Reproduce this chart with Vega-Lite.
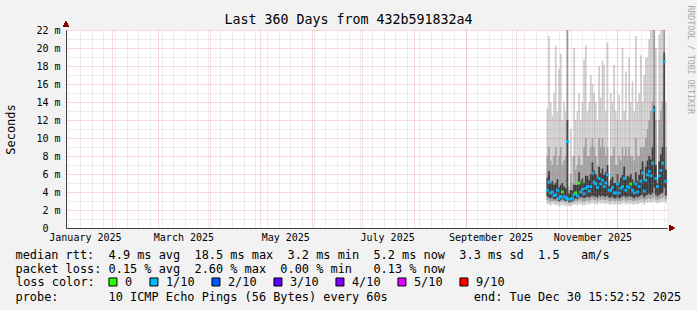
{
  "$schema": "https://vega.github.io/schema/vega-lite/v6.json",
  "width": 601,
  "height": 198,
  "autosize": {"type": "none"},
  "padding": {"left": 66, "top": 30, "right": 30, "bottom": 82},
  "background": "#f2f2f2",
  "config": {"view": {"fill": "#ffffff", "stroke": null}},
  "data": {"values": [
    {"d":"2025-10-20","mn":2.7,"lo":3.1,"lc":3.5,"md":4.2,"hc":5.6,"hi":8.0,"mx":13.3,"loss":"1/10"},
    {"d":"2025-10-21","mn":2.6,"lo":3.0,"lc":3.4,"md":5.1,"hc":6.3,"hi":9.0,"mx":21.3,"loss":"1/10"},
    {"d":"2025-10-22","mn":2.5,"lo":2.9,"lc":3.3,"md":3.9,"hc":5.0,"hi":7.5,"mx":14.0,"loss":"1/10"},
    {"d":"2025-10-23","mn":2.7,"lo":3.0,"lc":3.4,"md":4.0,"hc":5.2,"hi":7.0,"mx":12.5,"loss":"1/10"},
    {"d":"2025-10-24","mn":2.6,"lo":3.0,"lc":3.2,"md":3.6,"hc":4.8,"hi":8.0,"mx":15.0,"loss":"1/10"},
    {"d":"2025-10-25","mn":2.5,"lo":2.9,"lc":3.2,"md":3.7,"hc":5.0,"hi":9.0,"mx":20.3,"loss":"1/10"},
    {"d":"2025-10-26","mn":2.6,"lo":3.0,"lc":3.4,"md":4.2,"hc":5.4,"hi":7.0,"mx":13.0,"loss":"1/10"},
    {"d":"2025-10-27","mn":2.4,"lo":2.8,"lc":3.0,"md":3.3,"hc":4.5,"hi":8.0,"mx":17.7,"loss":"1/10"},
    {"d":"2025-10-28","mn":2.5,"lo":2.9,"lc":3.1,"md":3.5,"hc":4.8,"hi":9.0,"mx":19.4,"loss":"1/10"},
    {"d":"2025-10-29","mn":2.6,"lo":3.0,"lc":3.3,"md":4.0,"hc":5.0,"hi":7.0,"mx":12.0,"loss":"0"},
    {"d":"2025-10-30","mn":2.5,"lo":2.9,"lc":3.1,"md":3.5,"hc":4.6,"hi":7.5,"mx":14.0,"loss":"1/10"},
    {"d":"2025-10-31","mn":2.4,"lo":2.8,"lc":3.0,"md":3.3,"hc":4.4,"hi":8.0,"mx":13.0,"loss":"1/10"},
    {"d":"2025-11-01","mn":2.6,"lo":3.0,"lc":3.5,"md":9.6,"hc":12.0,"hi":22.0,"mx":22.0,"loss":"1/10"},
    {"d":"2025-11-02","mn":2.4,"lo":2.7,"lc":2.9,"md":3.2,"hc":3.8,"hi":4.2,"mx":4.6,"loss":"1/10"},
    {"d":"2025-11-03","mn":2.4,"lo":2.8,"lc":2.9,"md":3.2,"hc":4.2,"hi":6.0,"mx":11.0,"loss":"1/10"},
    {"d":"2025-11-04","mn":2.5,"lo":2.8,"lc":3.0,"md":3.3,"hc":4.2,"hi":5.0,"mx":8.0,"loss":"1/10"},
    {"d":"2025-11-05","mn":2.6,"lo":2.9,"lc":3.2,"md":3.7,"hc":4.8,"hi":8.0,"mx":20.0,"loss":"1/10"},
    {"d":"2025-11-06","mn":2.6,"lo":3.0,"lc":3.3,"md":3.9,"hc":4.8,"hi":6.5,"mx":12.0,"loss":"0"},
    {"d":"2025-11-07","mn":2.5,"lo":2.9,"lc":3.2,"md":3.6,"hc":4.8,"hi":7.0,"mx":13.0,"loss":"1/10"},
    {"d":"2025-11-08","mn":2.7,"lo":3.1,"lc":3.5,"md":5.0,"hc":6.2,"hi":8.0,"mx":15.0,"loss":"0"},
    {"d":"2025-11-09","mn":2.6,"lo":3.0,"lc":3.4,"md":4.0,"hc":5.2,"hi":7.0,"mx":12.0,"loss":"1/10"},
    {"d":"2025-11-10","mn":2.6,"lo":3.0,"lc":3.4,"md":4.3,"hc":5.5,"hi":7.0,"mx":14.0,"loss":"1/10"},
    {"d":"2025-11-11","mn":2.5,"lo":2.9,"lc":3.3,"md":3.8,"hc":5.0,"hi":9.0,"mx":18.7,"loss":"1/10"},
    {"d":"2025-11-12","mn":2.6,"lo":3.0,"lc":3.4,"md":4.4,"hc":5.8,"hi":10.0,"mx":20.3,"loss":"1/10"},
    {"d":"2025-11-13","mn":2.7,"lo":3.1,"lc":3.5,"md":4.6,"hc":5.8,"hi":8.0,"mx":13.0,"loss":"1/10"},
    {"d":"2025-11-14","mn":2.6,"lo":3.0,"lc":3.4,"md":4.1,"hc":5.3,"hi":8.0,"mx":14.0,"loss":"1/10"},
    {"d":"2025-11-15","mn":2.7,"lo":3.1,"lc":3.5,"md":4.6,"hc":6.0,"hi":9.0,"mx":17.0,"loss":"1/10"},
    {"d":"2025-11-16","mn":2.8,"lo":3.2,"lc":3.6,"md":6.1,"hc":7.3,"hi":10.0,"mx":16.0,"loss":"1/10"},
    {"d":"2025-11-17","mn":2.7,"lo":3.1,"lc":3.5,"md":5.1,"hc":6.4,"hi":9.0,"mx":15.0,"loss":"1/10"},
    {"d":"2025-11-18","mn":2.7,"lo":3.1,"lc":3.5,"md":4.9,"hc":6.0,"hi":8.0,"mx":14.0,"loss":"1/10"},
    {"d":"2025-11-19","mn":2.6,"lo":3.0,"lc":3.4,"md":4.5,"hc":5.6,"hi":7.0,"mx":12.0,"loss":"1/10"},
    {"d":"2025-11-20","mn":2.8,"lo":3.2,"lc":3.6,"md":5.5,"hc":6.8,"hi":10.0,"mx":18.0,"loss":"1/10"},
    {"d":"2025-11-21","mn":2.7,"lo":3.1,"lc":3.5,"md":4.9,"hc":6.1,"hi":9.0,"mx":14.5,"loss":"1/10"},
    {"d":"2025-11-22","mn":2.8,"lo":3.2,"lc":3.6,"md":5.3,"hc":6.6,"hi":10.0,"mx":18.6,"loss":"1/10"},
    {"d":"2025-11-23","mn":2.7,"lo":3.1,"lc":3.5,"md":4.6,"hc":5.9,"hi":9.0,"mx":18.1,"loss":"1/10"},
    {"d":"2025-11-24","mn":2.7,"lo":3.1,"lc":3.5,"md":5.0,"hc":6.2,"hi":8.0,"mx":13.0,"loss":"1/10"},
    {"d":"2025-11-25","mn":2.8,"lo":3.2,"lc":3.6,"md":5.9,"hc":7.0,"hi":9.0,"mx":20.6,"loss":"1/10"},
    {"d":"2025-11-26","mn":2.6,"lo":3.0,"lc":3.4,"md":4.2,"hc":4.6,"hi":4.8,"mx":5.2,"loss":"1/10"},
    {"d":"2025-11-27","mn":2.6,"lo":3.0,"lc":3.4,"md":4.2,"hc":5.4,"hi":8.0,"mx":15.0,"loss":"1/10"},
    {"d":"2025-11-28","mn":2.7,"lo":3.1,"lc":3.5,"md":4.5,"hc":5.7,"hi":8.0,"mx":14.0,"loss":"1/10"},
    {"d":"2025-11-29","mn":2.6,"lo":3.0,"lc":3.3,"md":3.9,"hc":5.0,"hi":9.0,"mx":18.1,"loss":"1/10"},
    {"d":"2025-11-30","mn":2.6,"lo":3.0,"lc":3.3,"md":3.9,"hc":5.0,"hi":7.0,"mx":13.0,"loss":"1/10"},
    {"d":"2025-12-01","mn":2.7,"lo":3.1,"lc":3.5,"md":4.9,"hc":6.0,"hi":7.0,"mx":12.0,"loss":"1/10"},
    {"d":"2025-12-02","mn":2.6,"lo":3.0,"lc":3.3,"md":3.9,"hc":5.0,"hi":8.0,"mx":14.8,"loss":"1/10"},
    {"d":"2025-12-03","mn":2.6,"lo":3.0,"lc":3.4,"md":4.4,"hc":5.6,"hi":7.5,"mx":12.0,"loss":"1/10"},
    {"d":"2025-12-04","mn":2.7,"lo":3.1,"lc":3.5,"md":4.6,"hc":5.9,"hi":9.0,"mx":20.0,"loss":"1/10"},
    {"d":"2025-12-05","mn":2.8,"lo":3.2,"lc":3.6,"md":5.5,"hc":6.8,"hi":8.0,"mx":13.0,"loss":"1/10"},
    {"d":"2025-12-06","mn":2.6,"lo":3.0,"lc":3.4,"md":4.2,"hc":5.4,"hi":9.0,"mx":17.4,"loss":"1/10"},
    {"d":"2025-12-07","mn":2.7,"lo":3.1,"lc":3.5,"md":4.6,"hc":5.8,"hi":8.0,"mx":12.0,"loss":"1/10"},
    {"d":"2025-12-08","mn":2.7,"lo":3.1,"lc":3.5,"md":4.5,"hc":5.7,"hi":9.0,"mx":18.9,"loss":"1/10"},
    {"d":"2025-12-09","mn":2.7,"lo":3.1,"lc":3.5,"md":4.9,"hc":6.0,"hi":8.0,"mx":14.0,"loss":"0"},
    {"d":"2025-12-10","mn":2.6,"lo":3.0,"lc":3.4,"md":4.2,"hc":5.4,"hi":8.0,"mx":16.3,"loss":"1/10"},
    {"d":"2025-12-11","mn":2.6,"lo":3.0,"lc":3.3,"md":3.9,"hc":5.0,"hi":7.5,"mx":13.0,"loss":"1/10"},
    {"d":"2025-12-12","mn":2.7,"lo":3.1,"lc":3.5,"md":4.9,"hc":6.2,"hi":10.0,"mx":21.3,"loss":"1/10"},
    {"d":"2025-12-13","mn":2.6,"lo":3.0,"lc":3.4,"md":4.0,"hc":5.2,"hi":8.0,"mx":14.0,"loss":"1/10"},
    {"d":"2025-12-14","mn":2.7,"lo":3.1,"lc":3.5,"md":4.6,"hc":5.9,"hi":8.0,"mx":15.0,"loss":"1/10"},
    {"d":"2025-12-15","mn":2.8,"lo":3.2,"lc":3.6,"md":5.2,"hc":6.5,"hi":9.0,"mx":19.2,"loss":"1/10"},
    {"d":"2025-12-16","mn":2.8,"lo":3.2,"lc":3.7,"md":6.1,"hc":7.4,"hi":9.0,"mx":14.0,"loss":"1/10"},
    {"d":"2025-12-17","mn":2.6,"lo":3.0,"lc":3.4,"md":4.1,"hc":5.3,"hi":9.0,"mx":17.0,"loss":"1/10"},
    {"d":"2025-12-18","mn":2.8,"lo":3.2,"lc":3.6,"md":5.3,"hc":6.8,"hi":10.0,"mx":18.9,"loss":"1/10"},
    {"d":"2025-12-19","mn":2.8,"lo":3.2,"lc":3.7,"md":5.9,"hc":7.5,"hi":11.0,"mx":19.0,"loss":"1/10"},
    {"d":"2025-12-20","mn":2.9,"lo":3.3,"lc":3.8,"md":6.3,"hc":8.0,"hi":12.0,"mx":21.0,"loss":"1/10"},
    {"d":"2025-12-21","mn":2.8,"lo":3.2,"lc":3.7,"md":5.8,"hc":7.6,"hi":13.0,"mx":22.0,"loss":"1/10"},
    {"d":"2025-12-22","mn":2.9,"lo":3.3,"lc":3.9,"md":7.2,"hc":9.0,"hi":14.0,"mx":22.0,"loss":"1/10"},
    {"d":"2025-12-23","mn":3.0,"lo":3.5,"lc":4.5,"md":13.1,"hc":13.6,"hi":22.0,"mx":22.0,"loss":"1/10"},
    {"d":"2025-12-24","mn":2.8,"lo":3.2,"lc":3.7,"md":5.5,"hc":7.0,"hi":12.0,"mx":20.0,"loss":"1/10"},
    {"d":"2025-12-25","mn":2.7,"lo":3.1,"lc":3.5,"md":4.6,"hc":5.0,"hi":5.3,"mx":5.6,"loss":"1/10"},
    {"d":"2025-12-26","mn":2.8,"lo":3.2,"lc":3.7,"md":5.8,"hc":7.4,"hi":12.0,"mx":21.5,"loss":"1/10"},
    {"d":"2025-12-27","mn":2.9,"lo":3.3,"lc":3.8,"md":6.4,"hc":8.2,"hi":13.0,"mx":22.0,"loss":"1/10"},
    {"d":"2025-12-28","mn":2.9,"lo":3.3,"lc":3.9,"md":7.2,"hc":9.0,"hi":14.0,"mx":22.0,"loss":"1/10"},
    {"d":"2025-12-29","mn":3.0,"lo":3.5,"lc":4.5,"md":18.5,"hc":19.5,"hi":22.0,"mx":22.0,"loss":"1/10"},
    {"d":"2025-12-30","mn":2.8,"lo":3.2,"lc":3.6,"md":5.2,"hc":6.5,"hi":9.0,"mx":14.0,"loss":"1/10"}
  ]},
  "resolve": {"axis": {"x": "independent", "y": "independent"}},
  "layer": [
    {
      "mark": {"type": "rule", "color": "#cdcdcd", "strokeWidth": 1.7, "strokeCap": "butt"},
      "encoding": {
        "x": {"field": "d", "type": "temporal",
          "scale": {"type": "utc", "domain": [{"year": 2025, "month": 1, "date": 4, "hours": 15, "minutes": 52, "utc": true}, {"year": 2025, "month": 12, "date": 30, "hours": 15, "minutes": 52, "utc": true}]},
          "axis": {"orient": "bottom", "grid": true, "gridColor": "#8f8f8f", "gridOpacity": 0.3, "gridDash": [1, 1], "labels": false, "ticks": false, "domain": false, "zindex": 1,
            "title": "probe:\u00a0\u00a0\u00a0\u00a0\u00a0\u00a0\u00a010 ICMP Echo Pings (56 Bytes) every 60s\u00a0\u00a0\u00a0\u00a0\u00a0\u00a0\u00a0\u00a0\u00a0\u00a0\u00a0\u00a0end: Tue Dec 30 15:52:52 2025",
            "titleFont": "DejaVu Sans Mono", "titleFontSize": 11.9, "titleFontWeight": "normal", "titleColor": "#000000",
            "titleAlign": "left", "titleAnchor": "start", "titleX": -51, "titleY": 72.6, "titleBaseline": "alphabetic",
            "values": [
              {"year":2025,"month":1,"date":6,"utc":true},{"year":2025,"month":1,"date":13,"utc":true},{"year":2025,"month":1,"date":20,"utc":true},{"year":2025,"month":1,"date":27,"utc":true},
              {"year":2025,"month":2,"date":3,"utc":true},{"year":2025,"month":2,"date":10,"utc":true},{"year":2025,"month":2,"date":17,"utc":true},{"year":2025,"month":2,"date":24,"utc":true},
              {"year":2025,"month":3,"date":3,"utc":true},{"year":2025,"month":3,"date":10,"utc":true},{"year":2025,"month":3,"date":17,"utc":true},{"year":2025,"month":3,"date":24,"utc":true},{"year":2025,"month":3,"date":31,"utc":true},
              {"year":2025,"month":4,"date":7,"utc":true},{"year":2025,"month":4,"date":14,"utc":true},{"year":2025,"month":4,"date":21,"utc":true},{"year":2025,"month":4,"date":28,"utc":true},
              {"year":2025,"month":5,"date":5,"utc":true},{"year":2025,"month":5,"date":12,"utc":true},{"year":2025,"month":5,"date":19,"utc":true},{"year":2025,"month":5,"date":26,"utc":true},
              {"year":2025,"month":6,"date":2,"utc":true},{"year":2025,"month":6,"date":9,"utc":true},{"year":2025,"month":6,"date":16,"utc":true},{"year":2025,"month":6,"date":23,"utc":true},{"year":2025,"month":6,"date":30,"utc":true},
              {"year":2025,"month":7,"date":7,"utc":true},{"year":2025,"month":7,"date":14,"utc":true},{"year":2025,"month":7,"date":21,"utc":true},{"year":2025,"month":7,"date":28,"utc":true},
              {"year":2025,"month":8,"date":4,"utc":true},{"year":2025,"month":8,"date":11,"utc":true},{"year":2025,"month":8,"date":18,"utc":true},{"year":2025,"month":8,"date":25,"utc":true},
              {"year":2025,"month":9,"date":1,"utc":true},{"year":2025,"month":9,"date":8,"utc":true},{"year":2025,"month":9,"date":15,"utc":true},{"year":2025,"month":9,"date":22,"utc":true},{"year":2025,"month":9,"date":29,"utc":true},
              {"year":2025,"month":10,"date":6,"utc":true},{"year":2025,"month":10,"date":13,"utc":true},{"year":2025,"month":10,"date":20,"utc":true},{"year":2025,"month":10,"date":27,"utc":true},
              {"year":2025,"month":11,"date":3,"utc":true},{"year":2025,"month":11,"date":10,"utc":true},{"year":2025,"month":11,"date":17,"utc":true},{"year":2025,"month":11,"date":24,"utc":true},
              {"year":2025,"month":12,"date":1,"utc":true},{"year":2025,"month":12,"date":8,"utc":true},{"year":2025,"month":12,"date":15,"utc":true},{"year":2025,"month":12,"date":22,"utc":true},{"year":2025,"month":12,"date":29,"utc":true}
            ]}},
        "y": {"field": "mn", "type": "quantitative", "scale": {"domain": [0, 22], "nice": false},
          "axis": {"orient": "left", "values": [0,1,2,3,4,5,6,7,8,9,10,11,12,13,14,15,16,17,18,19,20,21,22],
            "labelExpr": "datum.value % 2 == 0 ? (datum.value == 0 ? '0' : datum.value + '\u00a0m') : ''",
            "labelFont": "DejaVu Sans Mono", "labelFontSize": 10, "labelColor": "#000000",
            "labelPadding": {"condition": {"test": "datum.value == 0", "value": 18}, "value": 6},
            "ticks": false, "domain": true, "domainColor": "#404040",
            "grid": true,
            "gridColor": {"condition": {"test": "datum.value % 2 == 0", "value": "#de4f4f"}, "value": "#8f8f8f"},
            "gridOpacity": {"condition": {"test": "datum.value % 2 == 0", "value": 0.4}, "value": 0.3},
            "gridDash": [1, 1],
            "title": "Seconds", "titleFont": "DejaVu Sans Mono", "titleFontSize": 12, "titleFontWeight": "normal", "titleColor": "#000000",
            "titleX": -56, "titleY": 99, "titleAngle": -90, "titleAlign": "center", "titleBaseline": "middle", "zindex": 1}},
        "y2": {"field": "mx"}
      }
    },
    {
      "mark": {"type": "rule", "color": "#a0a0a0", "strokeWidth": 1.7, "strokeCap": "butt"},
      "encoding": {
        "x": {"field": "d", "type": "temporal",
          "scale": {"type": "utc", "domain": [{"year": 2025, "month": 1, "date": 4, "hours": 15, "minutes": 52, "utc": true}, {"year": 2025, "month": 12, "date": 30, "hours": 15, "minutes": 52, "utc": true}]},
          "axis": {"orient": "bottom", "grid": true, "gridColor": "#de4f4f", "gridOpacity": 0.4, "gridDash": [1, 1], "labels": false, "ticks": false, "domain": false, "title": null, "zindex": 1,
            "values": [
              {"year":2025,"month":2,"date":1,"utc":true},{"year":2025,"month":3,"date":1,"utc":true},{"year":2025,"month":4,"date":1,"utc":true},{"year":2025,"month":5,"date":1,"utc":true},
              {"year":2025,"month":6,"date":1,"utc":true},{"year":2025,"month":7,"date":1,"utc":true},{"year":2025,"month":8,"date":1,"utc":true},{"year":2025,"month":9,"date":1,"utc":true},
              {"year":2025,"month":10,"date":1,"utc":true},{"year":2025,"month":11,"date":1,"utc":true},{"year":2025,"month":12,"date":1,"utc":true}
            ]}},
        "y": {"field": "lo", "type": "quantitative", "scale": {"domain": [0, 22], "nice": false}, "axis": null},
        "y2": {"field": "hi"}
      }
    },
    {
      "mark": {"type": "rule", "color": "#3a3a3a", "strokeWidth": 1.7, "strokeCap": "butt"},
      "encoding": {
        "x": {"field": "d", "type": "temporal",
          "scale": {"type": "utc", "domain": [{"year": 2025, "month": 1, "date": 4, "hours": 15, "minutes": 52, "utc": true}, {"year": 2025, "month": 12, "date": 30, "hours": 15, "minutes": 52, "utc": true}]},
          "axis": {"orient": "bottom", "grid": false, "ticks": false, "domain": true, "domainColor": "#404040", "zindex": 2,
            "values": [
              {"year":2025,"month":1,"date":16,"utc":true},{"year":2025,"month":3,"date":16,"utc":true},{"year":2025,"month":5,"date":16,"utc":true},
              {"year":2025,"month":7,"date":16,"utc":true},{"year":2025,"month":9,"date":16,"utc":true},{"year":2025,"month":11,"date":16,"utc":true}
            ],
            "labelExpr": "utcFormat(datum.value, '%B %Y')",
            "labelFont": "DejaVu Sans Mono", "labelFontSize": 10, "labelColor": "#000000", "labelPadding": 4, "labelFlush": false, "labelOverlap": false,
            "title": [
              "median rtt:\u00a0\u00a04.9 ms avg\u00a0\u00a018.5 ms max\u00a0\u00a03.2 ms min\u00a0\u00a05.2 ms now\u00a0\u00a03.3 ms sd\u00a0\u00a01.5\u00a0\u00a0\u00a0am/s",
              "packet loss: 0.15 % avg\u00a0\u00a02.60 % max\u00a0\u00a00.00 % min\u00a0\u00a0\u00a00.13 % now"
            ],
            "titleFont": "DejaVu Sans Mono", "titleFontSize": 11.9, "titleFontWeight": "normal", "titleColor": "#000000",
            "titleAlign": "left", "titleAnchor": "start", "titleX": -51, "titleY": 30, "titleBaseline": "alphabetic", "titleLineHeight": 14.2}},
        "y": {"field": "lc", "type": "quantitative", "scale": {"domain": [0, 22], "nice": false}, "axis": null},
        "y2": {"field": "hc"}
      }
    },
    {
      "mark": {"type": "point", "shape": "square", "filled": true, "size": 8, "opacity": 1},
      "encoding": {
        "x": {"field": "d", "type": "temporal",
          "scale": {"type": "utc", "domain": [{"year": 2025, "month": 1, "date": 4, "hours": 15, "minutes": 52, "utc": true}, {"year": 2025, "month": 12, "date": 30, "hours": 15, "minutes": 52, "utc": true}]},
          "axis": {"orient": "top", "grid": false, "labels": false, "ticks": false, "domain": false,
            "title": "Last 360 Days from 432b591832a4", "titleFont": "DejaVu Sans Mono", "titleFontSize": 13.3, "titleFontWeight": "normal", "titleColor": "#000000",
            "titleX": 282, "titleY": -7, "titleAlign": "center", "titleBaseline": "alphabetic"}},
        "y": {"field": "md", "type": "quantitative", "scale": {"domain": [0, 22], "nice": false},
          "axis": {"orient": "right", "grid": false, "labels": false, "ticks": false, "domain": false,
            "title": "RRDTOOL / TOBI OETIKER", "titleFont": "DejaVu Sans Mono", "titleFontSize": 8.2, "titleFontWeight": "normal", "titleColor": "#a8a8a8",
            "titleAngle": 90, "titleX": 22, "titleY": -25, "titleAlign": "left", "titleBaseline": "middle"}},
        "color": {"field": "loss", "type": "nominal",
          "scale": {"domain": ["0", "1/10", "2/10", "3/10", "4/10", "5/10", "9/10"], "range": ["#26ff00", "#00b8ff", "#0059ff", "#5e00ff", "#7e00ff", "#dd00ff", "#ff0000"]},
          "legend": {"orient": "none", "legendX": -50, "legendY": 246, "direction": "horizontal", "padding": 0,
            "title": "loss color:", "titleOrient": "left", "titleFont": "DejaVu Sans Mono", "titleFontSize": 11.9, "titleFontWeight": "normal", "titleColor": "#000000", "titlePadding": 12,
            "labelFont": "DejaVu Sans Mono", "labelFontSize": 11.9, "labelColor": "#000000", "labelOffset": 6,
            "symbolType": "square", "symbolSize": 64, "symbolStrokeColor": "#000000", "symbolStrokeWidth": 1, "symbolOpacity": 1,
            "columnPadding": 14, "rowPadding": 0}}
      }
    },
    {
      "mark": {"type": "point", "shape": "triangle-up", "filled": true, "color": "#800000", "size": 26, "opacity": 1, "yOffset": -6},
      "encoding": {
        "x": {"datum": {"year": 2025, "month": 1, "date": 4, "hours": 15, "minutes": 52, "utc": true}, "type": "temporal",
          "scale": {"type": "utc", "domain": [{"year": 2025, "month": 1, "date": 4, "hours": 15, "minutes": 52, "utc": true}, {"year": 2025, "month": 12, "date": 30, "hours": 15, "minutes": 52, "utc": true}]}, "axis": null},
        "y": {"datum": 22, "type": "quantitative", "scale": {"domain": [0, 22], "nice": false}, "axis": null}
      }
    },
    {
      "mark": {"type": "point", "shape": "triangle-right", "filled": true, "color": "#800000", "size": 26, "opacity": 1, "xOffset": 5},
      "encoding": {
        "x": {"datum": {"year": 2025, "month": 12, "date": 30, "hours": 15, "minutes": 52, "utc": true}, "type": "temporal",
          "scale": {"type": "utc", "domain": [{"year": 2025, "month": 1, "date": 4, "hours": 15, "minutes": 52, "utc": true}, {"year": 2025, "month": 12, "date": 30, "hours": 15, "minutes": 52, "utc": true}]}, "axis": null},
        "y": {"datum": 0, "type": "quantitative", "scale": {"domain": [0, 22], "nice": false}, "axis": null}
      }
    }
  ]
}
